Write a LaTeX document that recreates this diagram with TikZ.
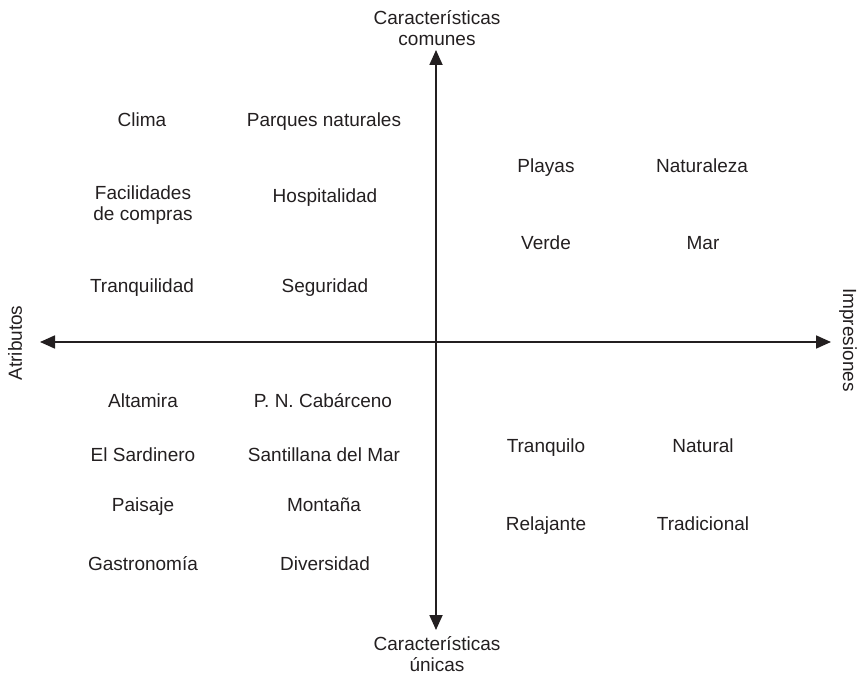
\documentclass[tikz,border=0pt]{standalone}
\usepackage{fontspec}
\setmainfont{Liberation Sans}
\usepackage{tikz}
\usetikzlibrary{arrows.meta,positioning}
\definecolor{inkdark}{RGB}{35,31,32}

\begin{document}
\begin{tikzpicture}[x=1pt,y=-1pt,
  axisline/.style={draw=inkdark,line width=1.8pt,{Triangle[length=15pt,width=13pt]}-{Triangle[length=15pt,width=13pt]}},
  twoline/.style={font=\fontsize{19}{20.5}\selectfont,text=inkdark,align=center,inner sep=0pt},
  item/.style={twoline,text height=13.7pt,text depth=0pt},
  axlabel/.style={twoline}]
  \useasboundingbox (0,0) rectangle (863,674);
  % axes
  \coordinate (north) at (436,50);
  \coordinate (south) at (436,630);
  \coordinate (west)  at (40,342);
  \coordinate (east)  at (831,342);
  \draw[axisline] (west) -- (east);
  \draw[axisline] (south) -- (north);
  % axis labels
  \node[axlabel] (comunes) at (437,28) {Características\\comunes};
  \node[axlabel] (unicas) at (437,654) {Características\\únicas};
  \node[item,rotate=90] (atributos) at (15,343) {Atributos};
  \node[item,rotate=-90] (impresiones) at (850,340) {Impresiones};
  % upper left
  \node[item] (clima)    at (142,120) {Clima};
  \node[item] (parques)  at (324,120) {Parques naturales};
  \node[twoline] (compras) at (143,205) {Facilidades\\de compras};
  \node[item] (hospital) at (325,196) {Hospitalidad};
  \node[item] (tranqui)  at (142,286) {Tranquilidad};
  \node[item] (segur)    at (325,286) {Seguridad};
  % upper right
  \node[item] (playas)   at (546,166) {Playas};
  \node[item] (natura)   at (702,166) {Naturaleza};
  \node[item] (verde)    at (546,243) {Verde};
  \node[item] (mar)      at (703,243) {Mar};
  % lower left
  \node[item] (altamira) at (143,401) {Altamira};
  \node[item] (cabarc)   at (323,401) {P. N. Cabárceno};
  \node[item] (sardin)   at (143,455) {El Sardinero};
  \node[item] (santill)  at (324,455) {Santillana del Mar};
  \node[item] (paisaje)  at (143,505) {Paisaje};
  \node[item] (montana)  at (324,505) {Montaña};
  \node[item] (gastro)   at (143,564) {Gastronomía};
  \node[item] (divers)   at (325,564) {Diversidad};
  % lower right
  \node[item] (tranqlo)  at (546,446) {Tranquilo};
  \node[item] (natural)  at (703,446) {Natural};
  \node[item] (relaj)    at (546,524) {Relajante};
  \node[item] (tradic)   at (703,524) {Tradicional};
\end{tikzpicture}
\end{document}
